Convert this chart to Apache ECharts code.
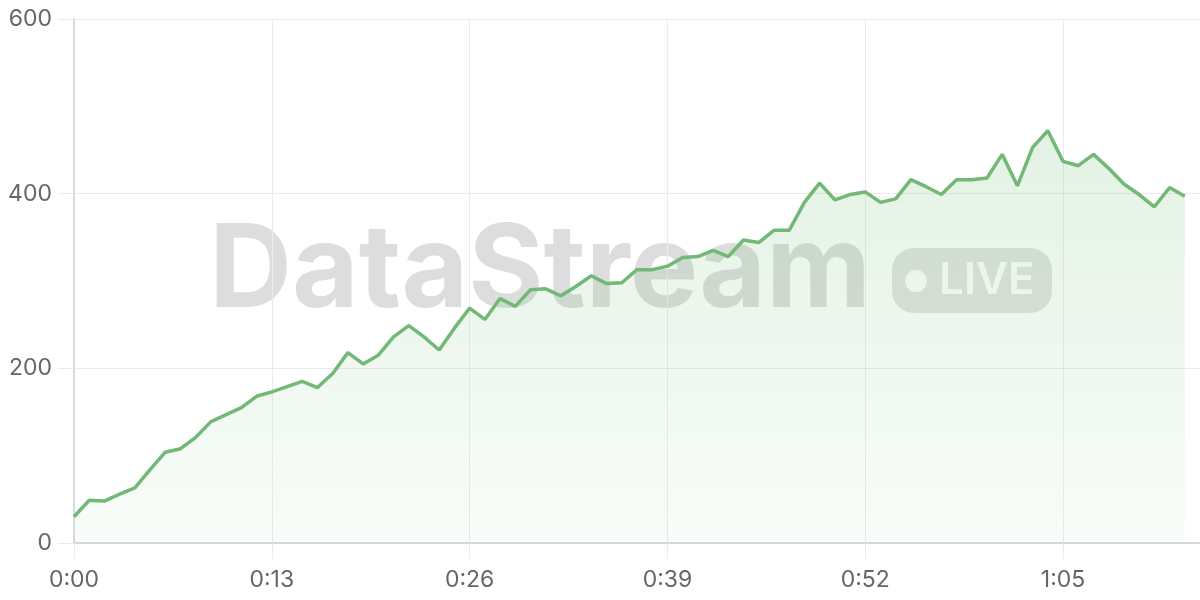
<!DOCTYPE html>
<html>
<head>
<meta charset="utf-8">
<script src="https://cdn.jsdelivr.net/npm/echarts@6/dist/echarts.min.js"></script>
<style>
html,body{margin:0;padding:0;background:#fff;}
#chart{width:1200px;height:600px;}
</style>
</head>
<body>
<div id="chart"></div>
<script>
// Values per second (0:00 .. 1:13)
const values = [30,49,48,56,63,84,104,108,121,139,147,155,168,173,179,185,178,194,218,205,215,236,249,236,221,246,269,256,280,271,290,291,283,294,306,297,298,313,313,317,327,328,335,328,347,344,358,358,390,412,393,399,402,390,394,416,408,399,416,416,418,445,409,453,472,437,432,445,429,411,399,385,407,397];
const xTickSeconds = [0,13,26,39,52,65];
const yTicks = [0,200,400,600];
const watermarkText = 'DataStream';
const badgeText = 'LIVE';

function fmt(s){
  const m = Math.floor(s/60), r = Math.round(s%60);
  return m + ':' + (r<10?'0':'') + r;
}

const chart = echarts.init(document.getElementById('chart'), null, {renderer:'canvas'});
const font = 'Inter, "Noto Sans", sans-serif';
chart.setOption({
  animation:false,
  grid:{left:74,right:0,top:19,bottom:57,containLabel:false},
  graphic:[
    {type:'text', z:0, x:209, y:272, style:{text:watermarkText, fontSize:115, fontWeight:'bold', fontFamily:font, fill:'rgba(0,0,0,0.135)', align:'left', verticalAlign:'middle'}},
    {type:'rect', z:0, shape:{x:892,y:248,width:160,height:65,r:22}, style:{fill:'rgba(0,0,0,0.11)'}},
    {type:'circle', z:0, shape:{cx:916,cy:281,r:11}, style:{fill:'#ffffff'}},
    {type:'text', z:0, x:939, y:281, style:{text:badgeText, fontSize:44, fontWeight:600, fontFamily:font, fill:'#ffffff', align:'left', verticalAlign:'middle'}}
  ],
  xAxis:{
    type:'value', min:0, max:74, interval:13,
    axisLine:{show:true, lineStyle:{color:'#d0d0d0', width:1.5}},
    axisTick:{show:true, length:16, lineStyle:{color:'#ebebeb'}},
    splitLine:{show:true, lineStyle:{color:'#ebebeb', width:1}},
    axisLabel:{color:'#666', fontSize:23, fontFamily:font, margin:26, showMaxLabel:false,
      formatter:function(v){ return xTickSeconds.indexOf(v)>=0 ? fmt(v) : ''; }}
  },
  yAxis:{
    type:'value', min:yTicks[0], max:yTicks[yTicks.length-1], interval:200,
    axisLine:{show:true, lineStyle:{color:'#d0d0d0', width:1.5}},
    axisTick:{show:true, length:16, lineStyle:{color:'#ebebeb'}},
    splitLine:{show:true, lineStyle:{color:'#ebebeb', width:1}},
    axisLabel:{color:'#666', fontSize:23, fontFamily:font, margin:22}
  },
  series:[{
    type:'line',
    z:2,
    data: values.map((v,i)=>[i,v]),
    symbol:'none',
    lineStyle:{color:'#72b876', width:3.5},
    areaStyle:{color:new echarts.graphic.LinearGradient(0,0,0,1,[
      {offset:0, color:'rgba(108,185,112,0.27)'},
      {offset:1, color:'rgba(108,185,112,0.06)'}
    ])}
  }]
});
</script>
</body>
</html>
